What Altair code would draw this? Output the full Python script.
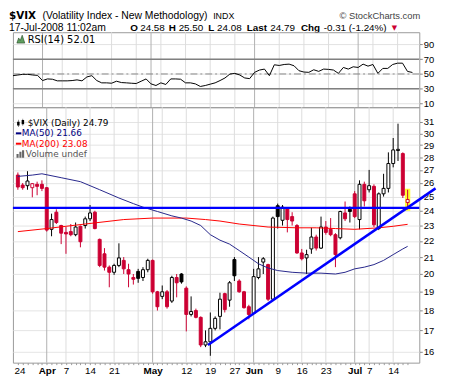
import altair as alt
import pandas as pd

FONT = "Liberation Sans"
LEG_FONT = "DejaVu Sans"
RED = "#cc0033"
NAVY = "#000080"
BLUE = "#0000ff"

# ---------------- data (trading-day index 0 = 24-Mar-2008 ... 81 = 17-Jul-2008)
x_label_idx = [0, 6, 10, 15, 20, 28, 35, 40, 45, 49, 54, 59, 64, 70, 73, 78]
x_label_txt = ["24", "Apr", "7", "14", "21", "May", "12", "19", "27", "Jun", "9", "16", "23", "Jul", "7", "14"]
month_idx = [6, 28, 49, 70]
week_idx = [10, 15, 20, 25, 30, 35, 40, 45, 54, 59, 64, 73, 78]
price_ticks = list(range(16, 32))
rsi_ticks = [10, 30, 50, 70, 90]

opens = [26.6, 25.85, 25.8, 25.65, 25.9, 25.9, 25.65, 22.75, 23.9, 23.0,
         22.55, 22.6, 22.4, 22.95, 23.0, 23.45, 23.9, 22.1, 21.2, 20.4,
         20.1, 20.5, 20.8, 20.25, 19.8, 20.15, 19.8, 20.25, 20.8, 19.0,
         18.75, 19.0, 18.5, 19.8, 20.0, 19.2, 17.8, 18.0, 17.65, 16.3,
         16.45, 17.1, 17.7, 18.9, 18.55, 20.85, 19.6, 19.0, 18.2, 17.85,
         19.8, 20.7, 20.55, 18.6, 24.35, 23.35, 24.15, 23.6, 23.0, 21.25,
         20.95, 21.5, 22.25, 21.55, 22.9, 22.75, 22.4, 22.2, 23.85, 24.1,
         25.2, 23.4, 25.9, 25.5, 25.75, 22.8, 25.2, 25.6, 27.5, 28.55,
         28.3, 24.58]
highs = [26.8, 26.0, 26.9, 26.0, 26.1, 26.2, 25.7, 23.8, 24.1, 23.05,
         22.9, 23.1, 23.2, 23.0, 23.6, 24.4, 24.0, 22.15, 21.55, 20.5,
         20.6, 21.85, 21.0, 20.6, 20.0, 20.3, 20.4, 20.9, 20.85, 19.05,
         19.35, 19.1, 19.9, 20.0, 20.05, 19.3, 18.75, 18.1, 17.7, 17.0,
         17.9, 17.7, 18.95, 18.95, 19.6, 21.0, 19.7, 19.05, 18.3, 20.3,
         21.0, 21.0, 20.6, 23.6, 24.5, 24.4, 24.25, 23.9, 23.1, 21.5,
         21.45, 22.85, 22.4, 23.6, 23.3, 23.5, 22.5, 24.0, 24.65, 24.3,
         25.4, 26.2, 26.1, 27.0, 25.9, 25.3, 26.7, 28.4, 29.6, 30.85,
         28.4, 25.50]
lows = [25.5, 25.5, 25.5, 24.95, 25.1, 25.4, 22.6, 22.3, 23.1, 21.8,
        21.2, 22.3, 22.3, 21.6, 22.8, 23.3, 22.75, 20.4, 20.2, 19.25,
        19.95, 20.4, 20.0, 19.25, 19.4, 19.5, 19.6, 20.1, 18.9, 18.0,
        18.6, 18.1, 18.4, 18.7, 19.45, 16.95, 17.7, 17.6, 16.2, 16.2,
        15.8, 17.0, 17.05, 17.9, 18.2, 19.6, 18.95, 18.1, 17.55, 17.8,
        19.7, 20.0, 18.5, 18.5, 22.8, 23.0, 22.55, 23.0, 21.2, 20.8,
        20.0, 21.2, 21.4, 21.5, 22.4, 22.3, 20.4, 22.1, 23.3, 23.2,
        23.5, 22.75, 24.3, 25.3, 22.9, 22.7, 25.0, 25.3, 27.2, 27.7,
        24.9, 24.08]
closes = [25.7, 25.65, 26.15, 25.95, 25.75, 25.6, 22.7, 23.4, 23.2, 22.5,
          22.45, 22.4, 22.9, 21.95, 23.45, 23.85, 22.8, 20.5, 20.4, 20.1,
          20.5, 20.95, 20.3, 20.0, 19.7, 19.75, 20.25, 20.8, 19.0, 18.2,
          19.0, 18.2, 19.8, 19.5, 19.55, 17.8, 17.95, 17.65, 16.3, 16.45,
          17.1, 17.6, 18.6, 18.05, 19.5, 19.9, 19.0, 18.15, 17.8, 19.85,
          20.3, 20.9, 18.6, 23.5, 23.6, 24.25, 23.4, 23.3, 21.25, 20.9,
          21.15, 22.25, 21.55, 22.9, 22.55, 22.4, 21.15, 23.95, 23.45, 23.95,
          23.6, 25.9, 24.7, 25.8, 23.05, 25.2, 25.6, 27.5, 28.6, 28.65,
          25.1, 24.79]
rsi = [47.7, 48.6, 49.5, 49.5, 48.6, 48.1, 41.1, 43.3, 42.9, 40.7,
       40.7, 40.7, 41.1, 42.0, 40.7, 46.0, 47.7, 41.1, 38.0, 38.0,
       37.5, 40.2, 38.4, 38.0, 37.5, 37.1, 40.2, 43.3, 36.6, 34.4,
       38.0, 35.8, 43.3, 43.3, 42.9, 38.0, 38.0, 36.6, 33.1, 34.4,
       36.2, 38.0, 41.1, 44.6, 49.9, 50.8, 48.6, 44.6, 43.7, 52.2,
       55.3, 56.6, 47.7, 62.4, 61.5, 62.8, 63.3, 61.1, 54.4, 52.6,
       52.2, 55.7, 53.5, 56.6, 56.2, 55.3, 50.8, 58.8, 56.6, 59.7,
       58.8, 63.3, 60.6, 62.8, 50.8, 57.5, 57.5, 62.8, 64.6, 64.6,
       53.5, 52.01]
ma50_idx = [0, 3, 5, 9, 13, 17, 21, 24, 26, 29, 32, 34, 36, 38, 40, 42, 44, 46, 48, 50,
            52, 54, 57, 60, 63, 66, 68, 70, 72, 74, 76, 78, 80, 81]
ma50_val = [26.5, 26.6, 26.7, 26.4, 26.1, 25.5, 24.9, 24.5, 24.25, 23.95, 23.65, 23.5, 23.3, 23.0,
            22.4, 22.05, 21.8, 21.4, 21.0, 20.6, 20.35, 20.2, 20.1, 20.05, 20.05, 20.0, 20.1, 20.3,
            20.4, 20.55, 20.8, 21.15, 21.5, 21.66]
ma200_idx = [0, 6, 14, 22, 28, 35, 39, 42, 46, 52, 58, 62, 66, 70, 75, 78, 81]
ma200_val = [22.6, 22.8, 23.1, 23.4, 23.5, 23.5, 23.4, 23.3, 23.1, 22.9, 22.85, 22.85, 22.8,
             22.75, 22.85, 22.95, 23.08]
support_level = 24.2
trend_idx = [39.5, 86.8]
trend_val = [16.3, 25.6]

# ---------------- frames
n = len(closes)
df = pd.DataFrame({"i": list(range(n)), "o": opens, "h": highs, "l": lows, "c": closes})
prev = df["c"].shift(1).fillna(df["o"])
df["col"] = ["#000000" if c > p else RED for c, p in zip(df["c"], prev)]
df["fill"] = ["#ffffff" if c >= o else col for c, o, col in zip(df["c"], df["o"], df["col"])]
df["top"] = df[["o", "c"]].max(axis=1)
df["bot"] = df[["o", "c"]].min(axis=1)
rsi_df = pd.DataFrame({"i": list(range(n)), "rsi": rsi})
ma50_df = pd.DataFrame({"i": ma50_idx, "v": ma50_val})
ma200_df = pd.DataFrame({"i": ma200_idx, "v": ma200_val})
week_df = pd.DataFrame({"i": week_idx})
month_df = pd.DataFrame({"i": month_idx})
trend_df = pd.DataFrame({"i": trend_idx, "v": trend_val})
hl_df = pd.DataFrame({"x1": [n - 1 - 0.55], "x2": [n - 1 + 0.55],
                      "y1": [lows[-1] * 0.997], "y2": [highs[-1] * 1.003]})
one = pd.DataFrame({"k": [0]})

W, H_HEAD, H_RSI, H_PRICE = 412, 21, 76, 259
xs = alt.Scale(domain=[0, 82.4], nice=False, zero=False)
ys = alt.Scale(type="log", domain=[15.49, 32.35], nice=False)
rs = alt.Scale(domain=[5.1, 106.4], nice=False, zero=False)


def txt(s, x, y, size=10, weight="normal", color="black", font=FONT, align="left", baseline="alphabetic"):
    return alt.Chart(one).mark_text(text=s, fontSize=size, fontWeight=weight, color=color, font=font,
                                    align=align, baseline=baseline).encode(x=alt.value(x), y=alt.value(y))


def icon(path, x, y, size, fill, stroke="transparent"):
    return alt.Chart(one).mark_point(shape=path, filled=True, size=size, fill=fill, stroke=stroke,
                                     strokeWidth=0.6, opacity=1).encode(x=alt.value(x), y=alt.value(y))


def vgrid(xaxis):
    return [
        alt.Chart(week_df).mark_rule(color="#dcdcdc", strokeWidth=1).encode(x=alt.X("i:Q", scale=xs, axis=xaxis)),
        alt.Chart(month_df).mark_rule(color="#b0b0b0", strokeWidth=1).encode(x=alt.X("i:Q", scale=xs, axis=xaxis)),
    ]


# ---------------- header (pieces placed one after another)
last, prev_close = closes[-1], closes[-2]
chg = last - prev_close
pct = chg / prev_close * 100
L1, L2 = 8, 19.5
header = alt.layer(
    txt("$VIX", -4, L1, size=10.5, weight="bold", font=LEG_FONT),
    txt("(Volatility Index - New Methodology)", 30, L1, size=10.5),
    txt("INDX", 203, L1, size=9),
    txt("\u00a9 StockCharts.com", 413, L1, size=9.5, color="#444444", align="right"),
    txt("17-Jul-2008 11:02am", -4, L2, size=10.5),
    txt("O", 119, L2, size=10, weight="bold"),
    txt(f"{opens[-1]:.2f}", 129, L2, size=10),
    txt("H", 158, L2, size=10, weight="bold"),
    txt(f"{highs[-1]:.2f}", 168, L2, size=10),
    txt("L", 198, L2, size=10, weight="bold"),
    txt(f"{lows[-1]:.2f}", 207, L2, size=10),
    txt("Last", 237, L2, size=10, weight="bold"),
    txt(f"{last:.2f}", 261, L2, size=10),
    txt("Chg", 292, L2, size=10, weight="bold"),
    txt(f"{chg:.2f} ({pct:.2f}%)", 315, L2, size=10),
    txt("\u25bc", 384, L2 - 0.5, size=7, color=RED, font=LEG_FONT),
).properties(width=W, height=H_HEAD, view=alt.ViewBackground(stroke="transparent"))

# ---------------- RSI panel
rsi_axis = alt.Axis(orient="right", values=rsi_ticks, grid=True, gridColor="#e2e2e2", tickSize=3,
                    tickColor="#888888", domain=False, labelFont=FONT, labelFontSize=9.5,
                    labelColor="black", labelPadding=1, title="")
rsi_line = alt.Chart(rsi_df).mark_line(color="black", strokeWidth=1, clip=True).encode(
    x=alt.X("i:Q", scale=xs, axis=None), y=alt.Y("rsi:Q", scale=rs, axis=rsi_axis))
rsi_levels = alt.Chart(pd.DataFrame({"v": [30, 70]})).mark_rule(color="#808080", strokeWidth=1.5).encode(
    y=alt.Y("v:Q", scale=rs, axis=rsi_axis))
rsi_mid = alt.Chart(pd.DataFrame({"v": [50]})).mark_rule(color="#888888", strokeWidth=1,
                                                          strokeDash=[7, 3, 2, 3]).encode(
    y=alt.Y("v:Q", scale=rs, axis=rsi_axis))
rsi_chart = alt.layer(
    *vgrid(None), rsi_levels, rsi_mid, rsi_line,
    icon("M-1,1L-0.55,-0.3L-0.15,0.35L0.35,-1L1,1Z", 8, 7, 64, "#5f9f5f", "#224422"),
    txt(f"RSI(14) {rsi[-1]:.2f}", 15, 10.5, size=10, font=LEG_FONT),
).properties(width=W, height=H_RSI)

# ---------------- price panel
idx_js = "[" + ",".join(str(v) for v in x_label_idx) + "]"
lab_js = "[" + ",".join(f"'{t}'" for t in x_label_txt) + "]"
mon_js = "[" + ",".join(str(v) for v in month_idx) + "]"
label_expr = f"indexof({idx_js}, datum.value) >= 0 ? {lab_js}[indexof({idx_js}, datum.value)] : ''"
x_axis = alt.Axis(values=list(range(n)), labelExpr=label_expr,
                  labelFontWeight=alt.condition(f"indexof({mon_js}, datum.value) >= 0",
                                                alt.value("bold"), alt.value("normal")),
                  labelOffset=alt.condition("datum.value == 0", alt.value(1.6), alt.value(0)),
                  labelFlush=False, labelOverlap=False, tickSize=2, tickColor="#999999",
                  domain=False, grid=False, labelFont=FONT, labelFontSize=10, labelColor="black",
                  labelPadding=1, title="")
y_axis = alt.Axis(orient="right", values=price_ticks, format="d", grid=True, gridColor="#e4e4e4",
                  tickSize=3, tickColor="#888888", domain=False, labelFont=FONT, labelFontSize=9.5,
                  labelColor="black", labelPadding=1, title="")

highlight = alt.Chart(hl_df).mark_rect(color="#ffff33", clip=True).encode(
    x=alt.X("x1:Q", scale=xs, axis=x_axis), x2="x2:Q",
    y=alt.Y("y1:Q", scale=ys, axis=y_axis), y2="y2:Q")
wicks = alt.Chart(df).mark_rule(strokeWidth=1, clip=True).encode(
    x=alt.X("i:Q", scale=xs, axis=x_axis), y=alt.Y("l:Q", scale=ys, axis=y_axis), y2="h:Q",
    color=alt.Color("col:N", scale=None))
bodies = alt.Chart(df).mark_bar(size=3, strokeWidth=1, clip=True).encode(
    x=alt.X("i:Q", scale=xs, axis=x_axis), y=alt.Y("bot:Q", scale=ys, axis=y_axis), y2="top:Q",
    fill=alt.Fill("fill:N", scale=None), stroke=alt.Stroke("col:N", scale=None))
ma200 = alt.Chart(ma200_df).mark_line(color="#ff0000", strokeWidth=1, clip=True).encode(
    x=alt.X("i:Q", scale=xs, axis=x_axis), y=alt.Y("v:Q", scale=ys, axis=y_axis))
ma50 = alt.Chart(ma50_df).mark_line(color="#26268a", strokeWidth=1, clip=True).encode(
    x=alt.X("i:Q", scale=xs, axis=x_axis), y=alt.Y("v:Q", scale=ys, axis=y_axis))
support = alt.Chart(pd.DataFrame({"v": [support_level]})).mark_rule(color=BLUE, strokeWidth=2.5).encode(
    y=alt.Y("v:Q", scale=ys, axis=y_axis))
trend = alt.Chart(trend_df).mark_line(color=BLUE, strokeWidth=2.5, clip=False).encode(
    x=alt.X("i:Q", scale=xs, axis=x_axis), y=alt.Y("v:Q", scale=ys, axis=y_axis))

legend = [
    icon("M-0.9,-0.3H-0.3V0.6H-0.9Z M-0.65,-0.8H-0.55V1H-0.65Z M0.2,-0.7H0.8V0.3H0.2Z M0.45,-1H0.55V0.7H0.45Z",
         8, 16, 70, "black"),
    txt(f"$VIX (Daily) {closes[-1]:.2f}", 15, 16, size=9, font=LEG_FONT, baseline="middle"),
    alt.Chart(one).mark_rule(color=NAVY, strokeWidth=2).encode(x=alt.value(3), x2=alt.value(8.5),
                                                               y=alt.value(26.5)),
    txt(f"MA(50) {ma50_val[-1]:.2f}", 9, 26.5, size=9, font=LEG_FONT, color=NAVY, baseline="middle"),
    alt.Chart(one).mark_rule(color="#ff0000", strokeWidth=2).encode(x=alt.value(3), x2=alt.value(8.5),
                                                                   y=alt.value(37)),
    txt(f"MA(200) {ma200_val[-1]:.2f}", 9, 37, size=9, font=LEG_FONT, color="#ff0000", baseline="middle"),
    icon("M-1,1V0H-0.45V1Z M-0.25,1V-0.6H0.3V1Z M0.45,1V-1H1V1Z", 7.5, 47.5, 60, "#666666"),
    txt("Volume undef", 13, 47.5, size=9, font=LEG_FONT, color="#555555", baseline="middle"),
]

price_chart = alt.layer(
    *vgrid(x_axis), highlight, wicks, bodies, ma200, ma50, support, trend, *legend
).properties(width=W, height=H_PRICE)

chart = alt.vconcat(header, rsi_chart, price_chart, spacing=0, bounds="flush").properties(
    padding=0, background="white"
).configure_view(stroke="#9a9a9a")

chart.save("out.html", embed_options={"renderer": "svg", "actions": False})
